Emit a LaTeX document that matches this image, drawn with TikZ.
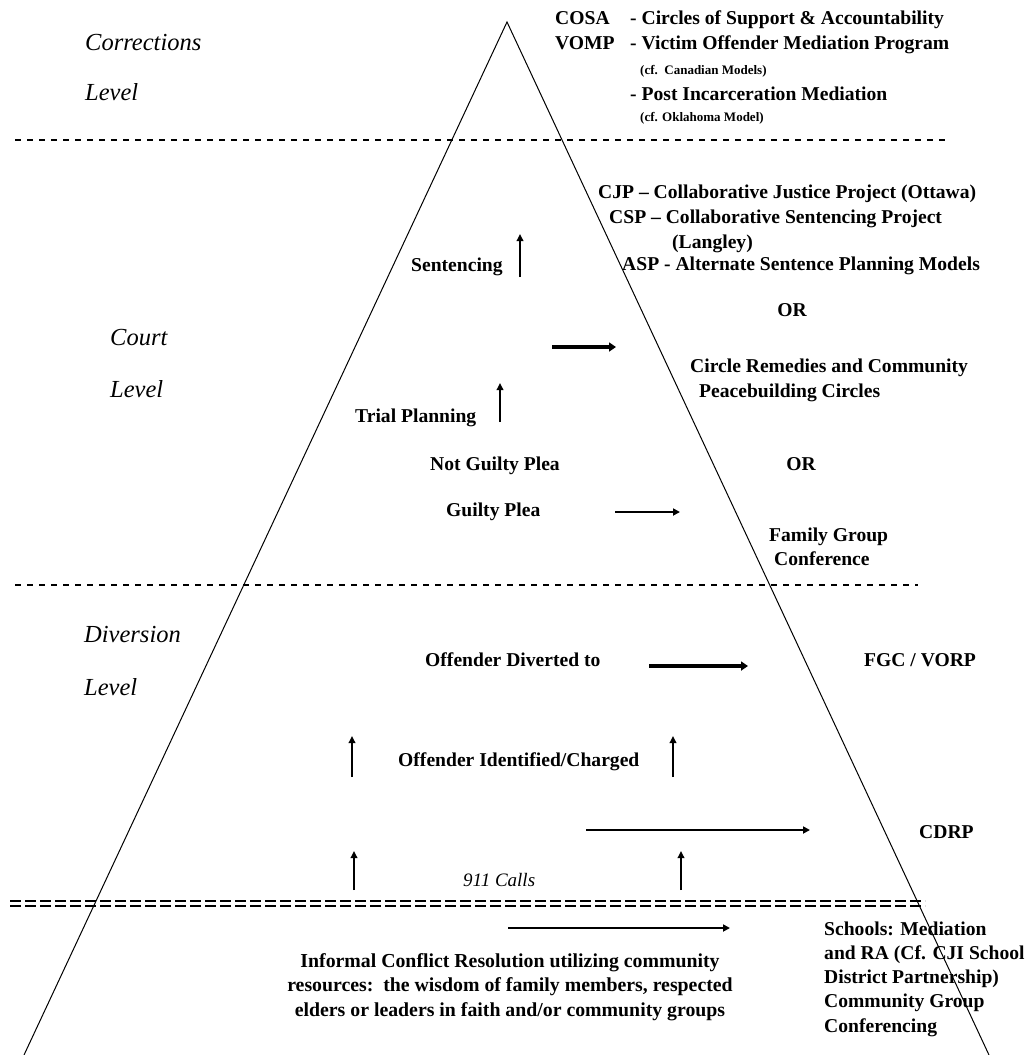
\documentclass[tikz,border=0pt]{standalone}
\usepackage{fontspec}
\setmainfont{Liberation Serif}
\usepackage{tikz}
\usetikzlibrary{arrows.meta}

\tikzset{
  lbl/.style={anchor=west, inner sep=0pt, text height=13pt, text depth=4pt,
    font=\bfseries\fontsize{19.6}{21}\selectfont},
  smalllbl/.style={anchor=west, inner sep=0pt, text height=9pt, text depth=3pt,
    font=\bfseries\fontsize{13}{15}\selectfont},
  lvl/.style={anchor=west, inner sep=0pt, text height=16pt, text depth=5pt,
    font=\itshape\fontsize{24.5}{26}\selectfont},
  uparr/.style={line width=2.5pt, -{Triangle[length=7pt,width=6.5pt]}},
  rarr/.style={line width=2.5pt, -{Triangle[length=7pt,width=7pt]}},
  fatarr/.style={line width=4.5pt, -{Triangle[length=7pt,width=9pt]}},
  sep/.style={line width=1.3pt, dash pattern=on 6pt off 6pt},
  dblsep/.style={line width=1.6pt, dash pattern=on 11pt off 4pt},
}

\begin{document}
\begin{tikzpicture}[x=1pt,y=-1pt]
\useasboundingbox (0,0) rectangle (1025,1055);

% the pyramid
\coordinate (top) at (507,22);
\coordinate (bl) at (24,1055);
\coordinate (br) at (989,1055);
\draw[line width=1pt] (bl) -- (top) -- (br);

% corrections level
\node[lvl] (corr) at (85,45) {Corrections};
\node[lvl] (corrlvl) at (85,95) {Level};
\node[lbl] (cosa) at (555,20) {COSA};
\node[lbl] (cosatxt) at (630,20) {- Circles of Support \& Accountability};
\node[lbl] (vomp) at (555,45) {VOMP};
\node[lbl] (vomptxt) at (630,45) {- Victim Offender Mediation Program};
\node[smalllbl] (vompnote) at (640,71) {(cf.\ \ Canadian Models)};
\node[lbl] (pim) at (630,96) {- Post Incarceration Mediation};
\node[smalllbl] (pimnote) at (640,118) {(cf. Oklahoma Model)};
\draw[sep] (15,140) -- (948,140);

% court level
\node[lvl] (court) at (110,340) {Court};
\node[lvl] (courtlvl) at (110,392) {Level};
\node[lbl] (cjp) at (598,194) {CJP -- Collaborative Justice Project (Ottawa)};
\node[lbl] (csp) at (609,219) {CSP -- Collaborative Sentencing Project};
\node[lbl] (langley) at (672,244) {(Langley)};
\node[lbl] (asp) at (622,266) {ASP - Alternate Sentence Planning Models};
\node[lbl] (sent) at (411,267) {Sentencing};
\coordinate (sentlo) at (520,277);
\coordinate (senthi) at (520,234);
\draw[uparr] (sentlo) -- (senthi);
\node[lbl, anchor=center] (or1) at (792,312) {OR};
\coordinate (circfrom) at (552,347);
\coordinate (circto) at (616,347);
\draw[fatarr] (circfrom) -- (circto);
\node[lbl] (circ) at (690,368) {Circle Remedies and Community};
\node[lbl] (peace) at (699,393) {Peacebuilding Circles};
\coordinate (triallo) at (500,422);
\coordinate (trialhi) at (500,383);
\draw[uparr] (triallo) -- (trialhi);
\node[lbl] (trial) at (355,418) {Trial Planning};
\node[lbl] (ngp) at (430,466) {Not Guilty Plea};
\node[lbl, anchor=center] (or2) at (801,466) {OR};
\node[lbl] (gp) at (446,512) {Guilty Plea};
\coordinate (gpfrom) at (615,512);
\coordinate (gpto) at (680,512);
\draw[rarr] (gpfrom) -- (gpto);
\node[lbl] (fam) at (769,537) {Family Group};
\node[lbl] (conf) at (774,561) {Conference};
\draw[sep] (15,585) -- (918,585);

% diversion level
\node[lvl] (divers) at (84,637) {Diversion};
\node[lvl] (divlvl) at (84,690) {Level};
\node[lbl] (odiv) at (425,662) {Offender Diverted to};
\coordinate (odivfrom) at (649,666);
\coordinate (odivto) at (748,666);
\draw[fatarr] (odivfrom) -- (odivto);
\node[lbl] (fgc) at (864,662) {FGC / VORP};
\coordinate (idlo1) at (352,777);
\coordinate (idhi1) at (352,736);
\coordinate (idlo2) at (673,777);
\coordinate (idhi2) at (673,736);
\draw[uparr] (idlo1) -- (idhi1);
\draw[uparr] (idlo2) -- (idhi2);
\node[lbl] (oid) at (398,762) {Offender Identified/Charged};
\coordinate (cdrpfrom) at (586,830);
\coordinate (cdrpto) at (810,830);
\draw[rarr] (cdrpfrom) -- (cdrpto);
\node[lbl] (cdrp) at (919,834) {CDRP};
\coordinate (calllo1) at (354,890);
\coordinate (callhi1) at (354,851);
\coordinate (calllo2) at (681,890);
\coordinate (callhi2) at (681,851);
\draw[uparr] (calllo1) -- (callhi1);
\draw[uparr] (calllo2) -- (callhi2);
\node[lvl, font=\itshape\fontsize{19}{21}\selectfont] (calls) at (463,881) {911 Calls};
\draw[dblsep] (10,901) -- (925,901);
\draw[dblsep] (10,906) -- (925,906);

% informal level
\coordinate (schfrom) at (508,928);
\coordinate (schto) at (730,928);
\draw[rarr] (schfrom) -- (schto);
\node[lbl, text height=, text depth=, align=left, font=\bfseries\fontsize{19.6}{24.2}\selectfont]
  (schools) at (824,979) {Schools: Mediation\\and RA (Cf. CJI School\\District Partnership)\\Community Group\\Conferencing};
\node[lbl, anchor=center, text height=, text depth=, align=center, font=\bfseries\fontsize{19.8}{24.5}\selectfont]
  (informal) at (510,987) {Informal Conflict Resolution utilizing community\\resources:\ \ the wisdom of family members, respected\\elders or leaders in faith and/or community groups};
\end{tikzpicture}
\end{document}
